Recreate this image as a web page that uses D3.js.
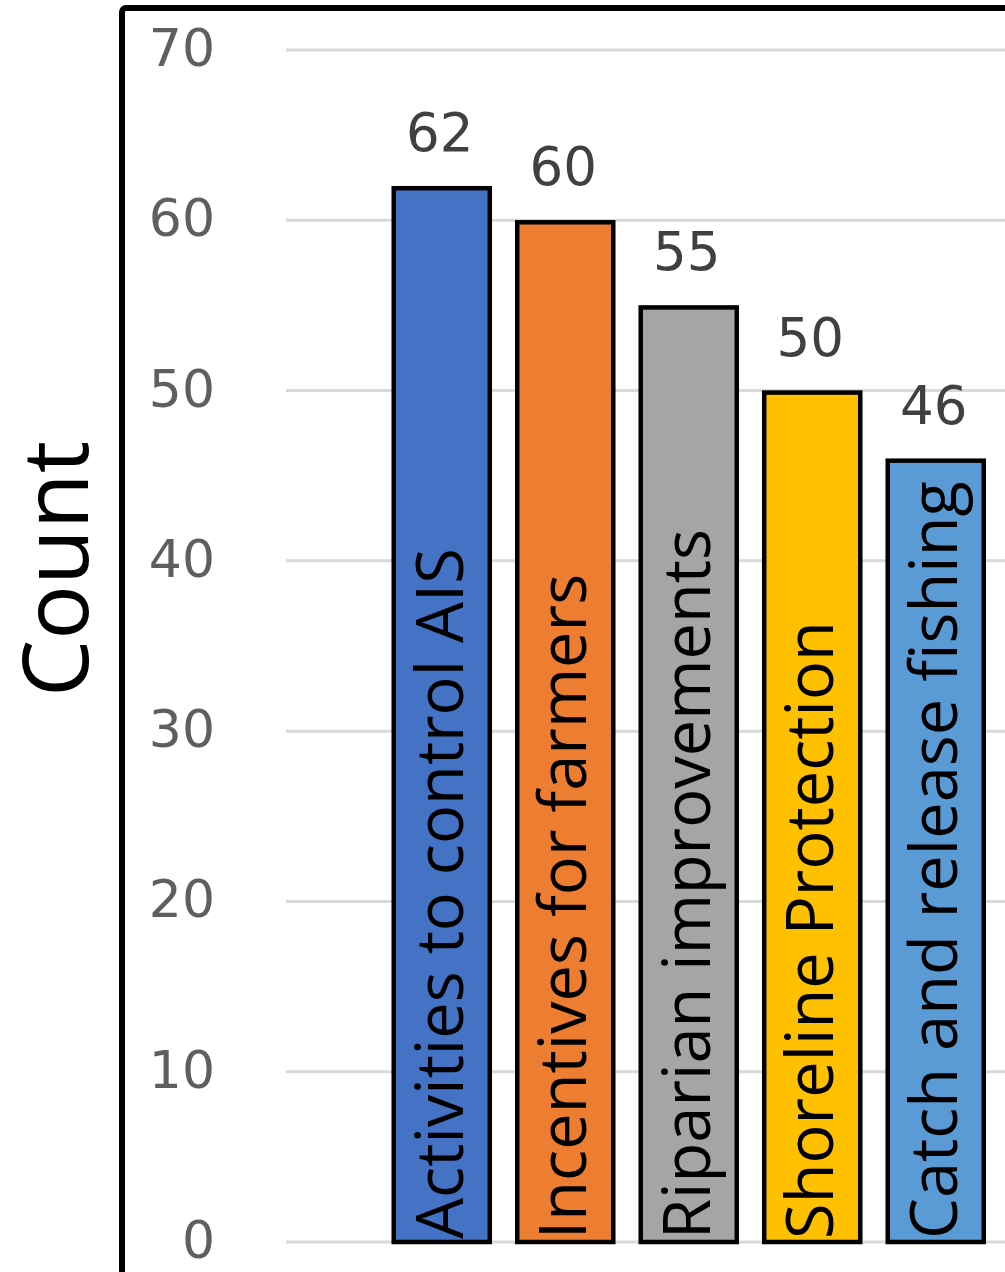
<!DOCTYPE html>
<html>
<head>
<meta charset="utf-8">
<script src="https://cdn.jsdelivr.net/npm/d3@7"></script>
<style>
  html, body { margin: 0; padding: 0; background: #fff; overflow: hidden; }
  svg { display: block; }
</style>
</head>
<body>
<svg id="chart" width="1005" height="1272"></svg>
<script>
const categories = ["Activities to control AIS", "Incentives for farmers", "Riparian improvements", "Shoreline Protection", "Catch and release fishing"];
const values = [62, 60, 55, 50, 46];
const colors = ["#4472C4", "#ED7D31", "#A5A5A5", "#FFC000", "#5B9BD5"];
const yTicks = [0, 10, 20, 30, 40, 50, 60, 70];
const yTitle = "Count";

const svg = d3.select("#chart");
const W = 1005, H = 1272;

svg.append("rect").attr("width", W).attr("height", H).attr("fill", "#fff");

const y = d3.scaleLinear().domain([0, 70]).range([1242, 50]);
const x = d3.scaleBand().domain(categories)
  .range([380, 380 + 5 * 123.5]).paddingInner(0.19).paddingOuter(0.095);

// gridlines
svg.append("g").selectAll("line").data(yTicks).join("line")
  .attr("x1", 286).attr("x2", W + 10)
  .attr("y1", d => y(d)).attr("y2", d => y(d))
  .attr("stroke", "#d9d9d9").attr("stroke-width", 3);

// tick labels
svg.append("g").selectAll("text").data(yTicks).join("text")
  .attr("x", 215).attr("y", d => y(d) + 16)
  .attr("text-anchor", "end")
  .attr("font-family", "DejaVu Sans, Verdana, sans-serif")
  .attr("font-size", 52)
  .attr("fill", "#5f5f5f")
  .text(d => d);

// bars
const data = categories.map((c, i) => ({ c, v: values[i], col: colors[i] }));
svg.append("g").selectAll("rect").data(data).join("rect")
  .attr("x", d => x(d.c) + 2).attr("width", x.bandwidth() - 4)
  .attr("y", d => y(d.v) + 2).attr("height", d => y(0) - y(d.v) - 2)
  .attr("fill", d => d.col)
  .attr("stroke", "#000").attr("stroke-width", 4.5);

// value labels
svg.append("g").selectAll("text").data(data).join("text")
  .attr("x", d => x(d.c) + x.bandwidth() / 2 - 2)
  .attr("y", d => y(d.v) - 35)
  .attr("text-anchor", "middle")
  .attr("font-family", "DejaVu Sans, Verdana, sans-serif")
  .attr("font-size", 53)
  .attr("fill", "#404040")
  .text(d => d.v);

// category labels inside bars
svg.append("g").selectAll("text").data(data).join("text")
  .attr("transform", d => `translate(${x(d.c) + x.bandwidth() / 2 + 21},${y(0) - 3}) rotate(-90)`)
  .attr("text-anchor", "start")
  .attr("font-family", "Open Sans, sans-serif")
  .attr("font-size", 65)
  .attr("fill", "#000")
  .text(d => d.c);

// y title
svg.append("text")
  .attr("transform", "translate(88,697) rotate(-90)")
  .attr("text-anchor", "start")
  .attr("font-family", "Open Sans, sans-serif")
  .attr("font-size", 91)
  .attr("fill", "#000")
  .text(yTitle);

// frame
svg.append("rect")
  .attr("x", 122).attr("y", 8)
  .attr("width", 1200).attr("height", 1400)
  .attr("rx", 4)
  .attr("fill", "none").attr("stroke", "#000").attr("stroke-width", 6);
</script>
</body>
</html>
